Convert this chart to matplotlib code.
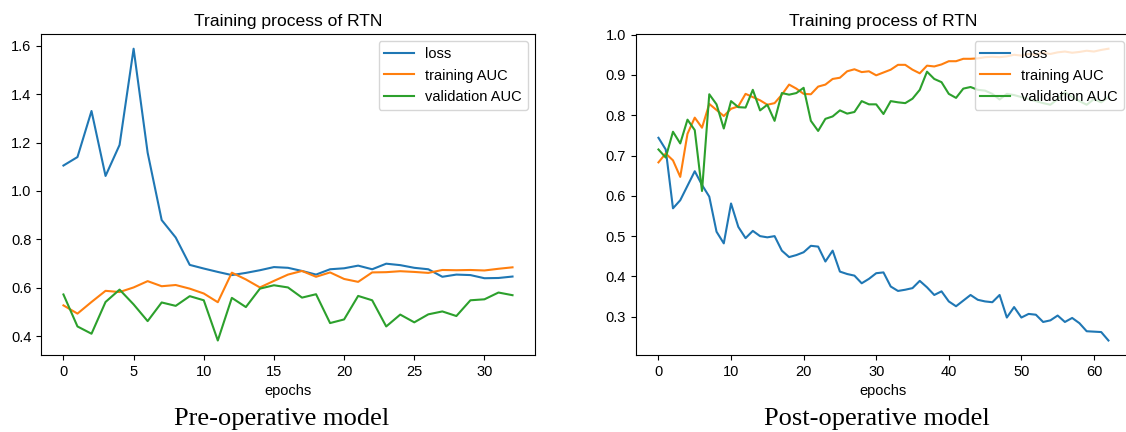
import numpy as np
import matplotlib
matplotlib.use('Agg')
import matplotlib.pyplot as plt

plt.rcParams['font.family'] = ['Liberation Sans', 'DejaVu Sans']
plt.rcParams['font.size'] = 10.5

# Pre-operative model, 33 epochs
loss_pre = [1.105, 1.14, 1.33, 1.062, 1.19, 1.587, 1.158, 0.88, 0.808, 0.695,
            0.68, 0.666, 0.653, 0.662, 0.673, 0.686, 0.683, 0.670, 0.655, 0.677,
            0.681, 0.692, 0.677, 0.700, 0.694, 0.683, 0.677, 0.646, 0.655, 0.653,
            0.640, 0.641, 0.647]
train_pre = [0.528, 0.494, 0.542, 0.588, 0.583, 0.602, 0.628, 0.607, 0.612, 0.597,
             0.577, 0.541, 0.663, 0.635, 0.602, 0.629, 0.655, 0.670, 0.646, 0.664,
             0.637, 0.625, 0.664, 0.665, 0.669, 0.666, 0.662, 0.674, 0.673, 0.674,
             0.672, 0.679, 0.685]
val_pre = [0.573, 0.441, 0.411, 0.542, 0.593, 0.532, 0.463, 0.540, 0.526, 0.566,
           0.549, 0.383, 0.559, 0.521, 0.597, 0.611, 0.602, 0.560, 0.574, 0.455,
           0.470, 0.567, 0.549, 0.441, 0.490, 0.458, 0.491, 0.503, 0.484, 0.549,
           0.553, 0.581, 0.570]

# Post-operative model, 63 epochs
loss_post = [0.744, 0.715, 0.569, 0.589, 0.625, 0.661, 0.627, 0.598, 0.511, 0.482,
             0.581, 0.523, 0.495, 0.513, 0.500, 0.497, 0.500, 0.464, 0.448, 0.453,
             0.460, 0.476, 0.474, 0.437, 0.464, 0.412, 0.406, 0.402, 0.383, 0.394,
             0.408, 0.410, 0.375, 0.364, 0.367, 0.371, 0.389, 0.373, 0.354, 0.363,
             0.338, 0.326, 0.340, 0.354, 0.342, 0.338, 0.336, 0.354, 0.298, 0.324,
             0.298, 0.307, 0.305, 0.287, 0.291, 0.303, 0.287, 0.297, 0.284, 0.264,
             0.263, 0.262, 0.241]
train_post = [0.683, 0.705, 0.688, 0.647, 0.754, 0.794, 0.769, 0.828, 0.813, 0.798,
              0.816, 0.822, 0.853, 0.845, 0.837, 0.826, 0.830, 0.851, 0.876, 0.866,
              0.853, 0.852, 0.871, 0.876, 0.890, 0.893, 0.909, 0.914, 0.907, 0.909,
              0.899, 0.906, 0.913, 0.925, 0.925, 0.913, 0.904, 0.923, 0.921, 0.926,
              0.934, 0.934, 0.940, 0.940, 0.941, 0.944, 0.945, 0.944, 0.946, 0.950,
              0.948, 0.952, 0.950, 0.955, 0.952, 0.956, 0.958, 0.955, 0.957, 0.960,
              0.958, 0.962, 0.965]
val_post = [0.715, 0.695, 0.759, 0.730, 0.789, 0.763, 0.612, 0.852, 0.827, 0.767,
            0.835, 0.820, 0.819, 0.863, 0.812, 0.826, 0.786, 0.855, 0.851, 0.855,
            0.868, 0.786, 0.761, 0.791, 0.797, 0.812, 0.804, 0.808, 0.835, 0.827,
            0.827, 0.803, 0.835, 0.832, 0.830, 0.841, 0.863, 0.908, 0.890, 0.882,
            0.853, 0.843, 0.866, 0.870, 0.863, 0.861, 0.853, 0.839, 0.853, 0.850,
            0.845, 0.840, 0.835, 0.830, 0.826, 0.840, 0.857, 0.845, 0.835, 0.826,
            0.840, 0.832, 0.845]

captions = ['Pre-operative model', 'Post-operative model']

fig = plt.figure(figsize=(11.26, 4.32), dpi=100)
ax1 = fig.add_axes([0.0364, 0.178, 0.4387, 0.743])
ax2 = fig.add_axes([0.5648, 0.178, 0.4396, 0.743])

for ax, loss, tr, va, cap in [(ax1, loss_pre, train_pre, val_pre, captions[0]),
                              (ax2, loss_post, train_post, val_post, captions[1])]:
    ep = np.arange(len(loss))
    ax.plot(ep, loss, label='loss')
    ax.plot(ep, tr, label='training AUC')
    ax.plot(ep, va, label='validation AUC')
    ax.set_title('Training process of RTN', fontsize=12.6)
    ax.set_xlabel('epochs')
    ax.legend(loc='upper right')
    pos = ax.get_position()
    fig.text(pos.x0 + pos.width / 2 - 0.006, 0.016, cap, ha='center', va='baseline',
             family='Liberation Serif', fontsize=19)

fig.savefig('out.png', dpi=100)
